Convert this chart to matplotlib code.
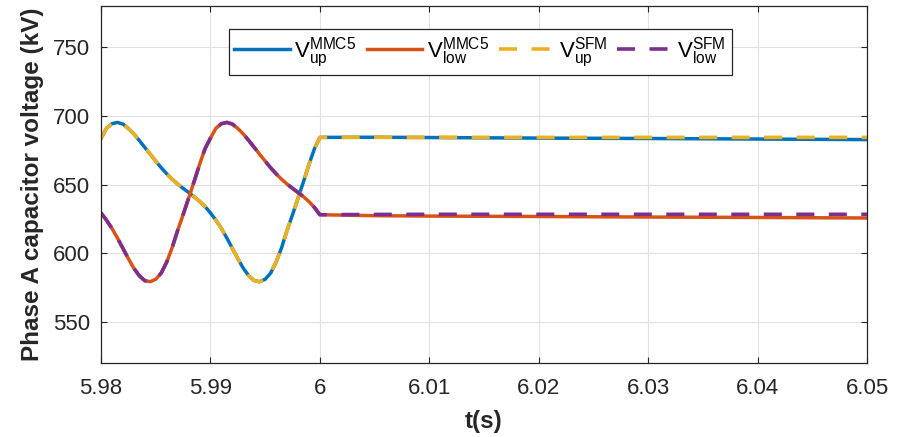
import numpy as np
import matplotlib
matplotlib.use('Agg')
from matplotlib import pyplot as plt

plt.rcParams['font.family'] = ['Liberation Sans', 'DejaVu Sans']
plt.rcParams['mathtext.fontset'] = 'custom'
plt.rcParams['mathtext.rm'] = 'Liberation Sans'

# time base: transient part (5.98 -> 6.0, every 0.5 ms) then steady part
t_trans = [5.98 + 0.0005 * i for i in range(41)]
t_flat = [6.005, 6.01, 6.02, 6.03, 6.04, 6.05]

up_trans = [683.5, 691.0, 694.3, 695.2, 694.0, 690.8, 686.8, 682.0, 677.0, 672.0,
            667.0, 662.2, 657.8, 653.8, 650.3, 647.2, 644.2, 641.1, 637.8, 634.0,
            629.3, 624.0, 618.0, 611.0, 603.5, 596.0, 589.0, 583.5, 580.0, 579.2,
            581.0, 585.5, 593.5, 604.0, 616.5, 628.0, 640.0, 652.0, 664.5, 676.0,
            684.3]
low_trans = [629.3, 624.0, 618.0, 611.0, 603.5, 596.0, 589.0, 583.5, 580.0, 579.2,
             581.0, 585.5, 593.5, 604.0, 616.5, 628.0, 640.0, 652.0, 664.5, 676.0,
             683.8, 691.0, 694.3, 695.2, 694.0, 690.8, 686.8, 682.0, 677.0, 672.0,
             667.0, 662.2, 657.8, 653.8, 650.3, 647.2, 644.2, 641.1, 637.6, 633.3,
             628.0]

up_mmc5_flat = [684.4, 684.2, 683.8, 683.5, 683.1, 682.7]
low_mmc5_flat = [627.3, 627.0, 626.7, 626.3, 626.0, 625.6]
up_sfm_flat = [684.4, 684.4, 684.3, 684.3, 684.3, 684.3]
low_sfm_flat = [628.2, 628.3, 628.3, 628.3, 628.3, 628.3]

t = np.array(t_trans + t_flat)
v_up_mmc5 = np.array(up_trans + up_mmc5_flat)
v_low_mmc5 = np.array(low_trans + low_mmc5_flat)
v_up_sfm = np.array(up_trans + up_sfm_flat)
v_low_sfm = np.array(low_trans + low_sfm_flat)

fig = plt.figure(figsize=(9.07, 4.37), dpi=100)
ax = fig.add_axes([0.1114, 0.1693, 0.8445, 0.817])

ax.plot(t, v_up_mmc5, color='#0072BD', lw=2.5, label=r'$\mathregular{V_{up}^{MMC5}}$')
ax.plot(t, v_low_mmc5, color='#D95319', lw=2.5, label=r'$\mathregular{V_{low}^{MMC5}}$')
ax.plot(t, v_up_sfm, color='#EDB120', lw=2.6, dashes=(5, 4), label=r'$\mathregular{V_{up}^{SFM}}$')
ax.plot(t, v_low_sfm, color='#7E2F8E', lw=2.6, dashes=(5, 4), label=r'$\mathregular{V_{low}^{SFM}}$')

ax.set_xlim(5.98, 6.05)
ax.set_ylim(520, 780)
ax.set_xticks([5.98, 5.99, 6.0, 6.01, 6.02, 6.03, 6.04, 6.05])
ax.set_xticklabels(['5.98', '5.99', '6', '6.01', '6.02', '6.03', '6.04', '6.05'])
ax.set_yticks([550, 600, 650, 700, 750])
ax.grid(True, color='#e0e0e0', lw=0.8)
ax.tick_params(direction='in', top=True, right=True, labelsize=16, colors='#262626', length=4)
ax.tick_params(axis='x', pad=11)
ax.tick_params(axis='y', pad=8)
for s in ax.spines.values():
    s.set_color('#262626')
    s.set_linewidth(0.9)

ax.set_xlabel('t(s)', fontsize=17.5, fontweight='bold', color='#262626', labelpad=8)
ax.set_ylabel('Phase A capacitor voltage (kV)', fontsize=17.5, fontweight='bold', color='#262626', labelpad=6)

leg = ax.legend(loc='upper center', bbox_to_anchor=(0.495, 0.966), ncol=4, fontsize=16,
                handlelength=2.5, columnspacing=0.45, handletextpad=0.2, borderpad=0.25,
                fancybox=False, framealpha=1, edgecolor='#262626')
leg.get_frame().set_linewidth(0.9)

plt.savefig('out.png', dpi=100)
